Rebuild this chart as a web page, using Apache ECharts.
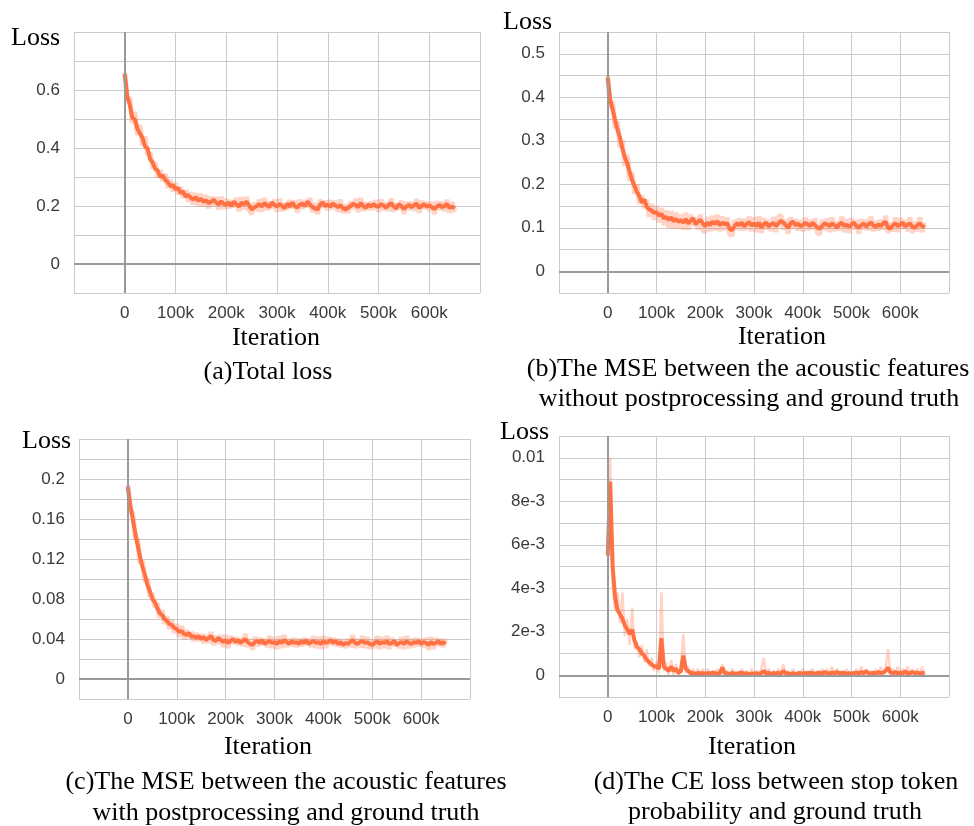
<!DOCTYPE html>
<html>
<head>
<meta charset="utf-8">
<script src="https://cdn.jsdelivr.net/npm/echarts@6/dist/echarts.min.js"></script>
<style>
html,body{margin:0;padding:0;background:#fff;}
#chart{width:974px;height:826px;}
</style>
</head>
<body>
<div id="chart"></div>
<script>
// Iterations (x values shared by all panels), rows of 50k
const iters = [
  0, 5000, 10000, 15000, 20000, 25000, 30000, 35000, 40000, 45000,
  50000, 55000, 60000, 65000, 70000, 75000, 80000, 85000, 90000, 95000,
  100000, 105000, 110000, 115000, 120000, 125000, 130000, 135000, 140000, 145000,
  150000, 155000, 160000, 165000, 170000, 175000, 180000, 185000, 190000, 195000,
  200000, 205000, 210000, 215000, 220000, 225000, 230000, 235000, 240000, 245000,
  250000, 255000, 260000, 265000, 270000, 275000, 280000, 285000, 290000, 295000,
  300000, 305000, 310000, 315000, 320000, 325000, 330000, 335000, 340000, 345000,
  350000, 355000, 360000, 365000, 370000, 375000, 380000, 385000, 390000, 395000,
  400000, 405000, 410000, 415000, 420000, 425000, 430000, 435000, 440000, 445000,
  450000, 455000, 460000, 465000, 470000, 475000, 480000, 485000, 490000, 495000,
  500000, 505000, 510000, 515000, 520000, 525000, 530000, 535000, 540000, 545000,
  550000, 555000, 560000, 565000, 570000, 575000, 580000, 585000, 590000, 595000,
  600000, 605000, 610000, 615000, 620000, 625000, 630000, 635000, 640000, 645000,
  650000];

// (a) Total loss
const aSmooth = [
  0.655, 0.578, 0.548, 0.505, 0.498, 0.466, 0.450, 0.435, 0.405, 0.398,
  0.362, 0.350, 0.328, 0.322, 0.300, 0.305, 0.290, 0.282, 0.268, 0.272,
  0.258, 0.262, 0.245, 0.250, 0.232, 0.238, 0.228, 0.222, 0.230, 0.218,
  0.225, 0.215, 0.220, 0.210, 0.214, 0.222, 0.212, 0.205, 0.216, 0.208,
  0.204, 0.212, 0.200, 0.215, 0.206, 0.198, 0.212, 0.205, 0.215, 0.202,
  0.188, 0.195, 0.200, 0.206, 0.198, 0.210, 0.203, 0.196, 0.212, 0.204,
  0.198, 0.207, 0.200, 0.192, 0.208, 0.198, 0.212, 0.200, 0.195, 0.205,
  0.208, 0.200, 0.215, 0.205, 0.196, 0.192, 0.188, 0.205, 0.212, 0.200,
  0.205, 0.198, 0.208, 0.202, 0.196, 0.203, 0.192, 0.188, 0.194, 0.200,
  0.208, 0.203, 0.196, 0.210, 0.200, 0.194, 0.205, 0.198, 0.206, 0.200,
  0.197, 0.206, 0.202, 0.194, 0.204, 0.210, 0.198, 0.192, 0.206, 0.200,
  0.190, 0.198, 0.204, 0.196, 0.202, 0.208, 0.194, 0.200, 0.206, 0.198,
  0.202, 0.196, 0.190, 0.198, 0.204, 0.196, 0.200, 0.206, 0.194, 0.198,
  0.192];
const aRaw = [
  0.660, 0.560, 0.575, 0.485, 0.525, 0.445, 0.480, 0.410, 0.440, 0.375,
  0.385, 0.330, 0.350, 0.300, 0.325, 0.285, 0.310, 0.262, 0.290, 0.250,
  0.280, 0.240, 0.265, 0.228, 0.255, 0.215, 0.248, 0.205, 0.245, 0.200,
  0.242, 0.198, 0.238, 0.192, 0.232, 0.200, 0.230, 0.188, 0.232, 0.190,
  0.225, 0.192, 0.220, 0.195, 0.228, 0.182, 0.230, 0.188, 0.232, 0.185,
  0.172, 0.212, 0.182, 0.222, 0.180, 0.228, 0.186, 0.215, 0.192, 0.222,
  0.180, 0.225, 0.182, 0.210, 0.188, 0.220, 0.192, 0.218, 0.178, 0.222,
  0.190, 0.220, 0.195, 0.228, 0.178, 0.210, 0.172, 0.222, 0.194, 0.218,
  0.186, 0.220, 0.190, 0.218, 0.180, 0.222, 0.176, 0.205, 0.176, 0.215,
  0.190, 0.225, 0.178, 0.228, 0.184, 0.212, 0.186, 0.215, 0.188, 0.220,
  0.180, 0.222, 0.186, 0.212, 0.184, 0.226, 0.180, 0.210, 0.188, 0.218,
  0.172, 0.215, 0.186, 0.214, 0.184, 0.224, 0.176, 0.218, 0.190, 0.214,
  0.184, 0.214, 0.172, 0.216, 0.186, 0.215, 0.182, 0.222, 0.176, 0.214,
  0.178];

// (b) MSE without postprocessing
const bSmooth = [
  0.445, 0.395, 0.372, 0.348, 0.325, 0.308, 0.282, 0.262, 0.248, 0.228,
  0.210, 0.196, 0.182, 0.172, 0.158, 0.165, 0.148, 0.142, 0.140, 0.134,
  0.136, 0.128, 0.132, 0.122, 0.125, 0.118, 0.124, 0.115, 0.120, 0.114,
  0.117, 0.112, 0.120, 0.110, 0.116, 0.122, 0.108, 0.114, 0.118, 0.110,
  0.104, 0.112, 0.106, 0.114, 0.109, 0.115, 0.106, 0.112, 0.108, 0.111,
  0.097, 0.094, 0.104, 0.110, 0.106, 0.112, 0.103, 0.109, 0.113, 0.105,
  0.110, 0.104, 0.112, 0.100, 0.108, 0.112, 0.103, 0.108, 0.111, 0.104,
  0.110, 0.116, 0.112, 0.106, 0.100, 0.110, 0.114, 0.106, 0.109, 0.104,
  0.106, 0.111, 0.108, 0.104, 0.112, 0.106, 0.100, 0.098, 0.104, 0.110,
  0.108, 0.104, 0.110, 0.106, 0.100, 0.108, 0.112, 0.104, 0.107, 0.102,
  0.108, 0.112, 0.104, 0.100, 0.106, 0.110, 0.103, 0.108, 0.112, 0.105,
  0.102, 0.108, 0.104, 0.110, 0.114, 0.100, 0.098, 0.106, 0.110, 0.104,
  0.108, 0.112, 0.103, 0.107, 0.110, 0.102, 0.100, 0.106, 0.110, 0.104,
  0.101];
const bRaw = [
  0.450, 0.375, 0.390, 0.328, 0.345, 0.285, 0.300, 0.242, 0.268, 0.208,
  0.228, 0.178, 0.200, 0.155, 0.175, 0.145, 0.165, 0.125, 0.155, 0.118,
  0.150, 0.112, 0.145, 0.106, 0.140, 0.100, 0.138, 0.098, 0.135, 0.098,
  0.130, 0.096, 0.135, 0.095, 0.130, 0.105, 0.124, 0.096, 0.130, 0.094,
  0.090, 0.125, 0.092, 0.128, 0.094, 0.130, 0.092, 0.126, 0.094, 0.124,
  0.085, 0.082, 0.118, 0.095, 0.122, 0.094, 0.120, 0.095, 0.126, 0.092,
  0.124, 0.090, 0.126, 0.088, 0.122, 0.096, 0.118, 0.092, 0.125, 0.090,
  0.124, 0.130, 0.096, 0.120, 0.086, 0.124, 0.098, 0.120, 0.094, 0.118,
  0.092, 0.124, 0.094, 0.118, 0.096, 0.122, 0.088, 0.085, 0.118, 0.094,
  0.122, 0.090, 0.124, 0.092, 0.115, 0.094, 0.126, 0.090, 0.120, 0.088,
  0.122, 0.096, 0.118, 0.086, 0.120, 0.096, 0.118, 0.094, 0.126, 0.092,
  0.116, 0.094, 0.118, 0.096, 0.128, 0.088, 0.112, 0.092, 0.124, 0.090,
  0.122, 0.098, 0.118, 0.092, 0.124, 0.088, 0.114, 0.092, 0.124, 0.090,
  0.112];

// (c) MSE with postprocessing
const cSmooth = [
  0.192, 0.174, 0.160, 0.146, 0.134, 0.122, 0.112, 0.104, 0.094, 0.088,
  0.080, 0.077, 0.071, 0.066, 0.064, 0.060, 0.058, 0.055, 0.054, 0.051,
  0.050, 0.047, 0.048, 0.045, 0.044, 0.046, 0.042, 0.043, 0.041, 0.043,
  0.040, 0.042, 0.039, 0.041, 0.043, 0.039, 0.038, 0.041, 0.039, 0.037,
  0.039, 0.036, 0.038, 0.040, 0.037, 0.039, 0.036, 0.038, 0.040, 0.037,
  0.035, 0.034, 0.037, 0.038, 0.036, 0.039, 0.035, 0.037, 0.038, 0.036,
  0.037, 0.035, 0.038, 0.036, 0.039, 0.037, 0.035, 0.038, 0.036, 0.037,
  0.035, 0.038, 0.036, 0.039, 0.035, 0.037, 0.038, 0.036, 0.037, 0.035,
  0.038, 0.036, 0.037, 0.039, 0.036, 0.038, 0.035, 0.037, 0.034, 0.036,
  0.035, 0.037, 0.039, 0.036, 0.035, 0.037, 0.038, 0.036, 0.037, 0.035,
  0.034, 0.036, 0.038, 0.035, 0.037, 0.036, 0.038, 0.035, 0.036, 0.038,
  0.034, 0.036, 0.037, 0.035, 0.038, 0.036, 0.035, 0.037, 0.036, 0.038,
  0.035, 0.037, 0.036, 0.034, 0.037, 0.035, 0.036, 0.038, 0.035, 0.037,
  0.035];
const cRaw = [
  0.194, 0.168, 0.166, 0.140, 0.140, 0.115, 0.118, 0.097, 0.100, 0.082,
  0.086, 0.072, 0.076, 0.061, 0.069, 0.055, 0.063, 0.050, 0.059, 0.046,
  0.055, 0.042, 0.053, 0.040, 0.049, 0.041, 0.047, 0.038, 0.046, 0.038,
  0.045, 0.036, 0.044, 0.036, 0.047, 0.034, 0.043, 0.035, 0.044, 0.032,
  0.044, 0.031, 0.043, 0.035, 0.042, 0.034, 0.041, 0.033, 0.045, 0.032,
  0.040, 0.029, 0.042, 0.033, 0.041, 0.034, 0.040, 0.032, 0.043, 0.031,
  0.042, 0.030, 0.043, 0.031, 0.044, 0.032, 0.040, 0.033, 0.041, 0.032,
  0.040, 0.033, 0.041, 0.034, 0.040, 0.032, 0.043, 0.031, 0.042, 0.030,
  0.043, 0.031, 0.042, 0.034, 0.041, 0.033, 0.040, 0.032, 0.039, 0.031,
  0.040, 0.032, 0.044, 0.031, 0.040, 0.032, 0.043, 0.031, 0.042, 0.030,
  0.039, 0.031, 0.043, 0.030, 0.042, 0.031, 0.043, 0.030, 0.041, 0.033,
  0.039, 0.031, 0.042, 0.030, 0.043, 0.031, 0.040, 0.032, 0.041, 0.033,
  0.040, 0.032, 0.041, 0.029, 0.042, 0.030, 0.041, 0.033, 0.040, 0.032,
  0.040];

// (d) CE loss of stop token
const dSmooth = [
  0.0055, 0.0089, 0.0050, 0.0036, 0.0030, 0.0028, 0.0026, 0.0023, 0.0021, 0.0019,
  0.0021, 0.0016, 0.0013, 0.0012, 0.0010, 0.0009, 0.0007, 0.0006, 0.0005, 0.0004,
  0.0004, 0.0003, 0.0017, 0.0004, 0.0003, 0.0002, 0.0004, 0.0002, 0.0003, 0.0001,
  0.0002, 0.0009, 0.0003, 0.0002, 0.0001, 0.0001, 0.00005, 0.0001, 0.00008, 0.0001,
  0.00005, 0.0001, 0.00008, 0.00012, 0.0001, 0.00006, 0.0001, 0.00035, 0.0001, 0.00008,
  0.00005, 0.0001, 0.00008, 0.00004, 0.0001, 0.00012, 0.00006, 0.0001, 0.00003, 0.00008,
  0.00006, 0.0001, 0.00005, 0.0001, 0.0002, 0.00008, 0.00012, 0.00005, 0.0001, 0.00008,
  0.00012, 0.00006, 0.0002, 0.0001, 0.00008, 0.00005, 0.0001, 0.00004, 0.00008, 0.0001,
  0.00005, 0.0001, 0.00008, 0.00012, 0.0001, 0.00006, 0.0001, 0.00012, 0.00008, 0.00015,
  0.0001, 0.00008, 0.00012, 0.0001, 0.00015, 0.00008, 0.0001, 0.00012, 0.00006, 0.0001,
  0.00004, 0.0001, 0.00012, 0.00008, 0.00015, 0.0001, 0.00018, 0.0001, 0.00008, 0.00012,
  0.00008, 0.00015, 0.0001, 0.00012, 0.0002, 0.00035, 0.00012, 0.0001, 0.00015, 0.00008,
  0.00012, 0.0001, 0.00018, 0.00008, 0.0001, 0.00015, 0.0001, 0.00012, 0.00008, 0.0001,
  0.00008];
const dRaw = [
  0.0058, 0.0100, 0.0042, 0.0030, 0.0038, 0.0024, 0.0038, 0.0018, 0.0026, 0.0014,
  0.0031, 0.0012, 0.0015, 0.0008, 0.0014, 0.0006, 0.0012, 0.0004, 0.0008, 0.0002,
  0.0006, 0.0001, 0.0038, 0.0002, 0.0006, 0.0000, 0.0007, 0.0000, 0.0005, 0.0000,
  0.0004, 0.0019, 0.0001, 0.0004, 0.0000, 0.0003, 0.0000, 0.0003, 0.0000, 0.0003,
  0.0000, 0.0003, 0.0000, 0.0002, 0.0000, 0.0003, 0.0000, 0.0005, 0.0000, 0.0002,
  0.0000, 0.0003, 0.0000, 0.0002, 0.0000, 0.0003, 0.0000, 0.0002, 0.0000, 0.0003,
  0.0000, 0.0002, 0.0000, 0.0003, 0.0008, 0.0000, 0.0003, 0.0000, 0.0002, 0.0000,
  0.0003, 0.0000, 0.0005, 0.0000, 0.0002, 0.0000, 0.0003, 0.0000, 0.0002, 0.0000,
  0.0003, 0.0000, 0.0002, 0.0000, 0.0003, 0.0000, 0.0002, 0.0000, 0.0003, 0.0000,
  0.0003, 0.0000, 0.0004, 0.0000, 0.0003, 0.0000, 0.0002, 0.0000, 0.0003, 0.0000,
  0.0002, 0.0000, 0.0003, 0.0000, 0.0004, 0.0000, 0.0003, 0.0000, 0.0002, 0.0000,
  0.0003, 0.0000, 0.0004, 0.0000, 0.0003, 0.0012, 0.0000, 0.0003, 0.0000, 0.0004,
  0.0000, 0.0003, 0.0000, 0.0004, 0.0000, 0.0003, 0.0000, 0.0003, 0.0000, 0.0004,
  0.0000];

// Tick labels
const xTickValues = [0, 100000, 200000, 300000, 400000, 500000, 600000];
const xTickLabels = ['0', '100k', '200k', '300k', '400k', '500k', '600k'];
const aTickValues = [0, 0.2, 0.4, 0.6];
const aTickLabels = ['0', '0.2', '0.4', '0.6'];
const bTickValues = [0, 0.1, 0.2, 0.3, 0.4, 0.5];
const bTickLabels = ['0', '0.1', '0.2', '0.3', '0.4', '0.5'];
const cTickValues = [0, 0.04, 0.08, 0.12, 0.16, 0.2];
const cTickLabels = ['0', '0.04', '0.08', '0.12', '0.16', '0.2'];
const dTickValues = [0, 0.002, 0.004, 0.006, 0.008, 0.01];
const dTickLabels = ['0', '2e-3', '4e-3', '6e-3', '8e-3', '0.01'];

const chart = echarts.init(document.getElementById('chart'), null, {renderer: 'canvas'});

const GRID_COLOR = '#cbcbcb';
const ZERO_COLOR = '#9a9a9a';
const LINE_COLOR = '#ff7043';
const RAW_COLOR = 'rgba(255,112,67,0.3)';
const TICK_FONT = 'Liberation Sans';
const SERIF = 'Liberation Serif';

function labelFn(values, labels, tol) {
  return function (v) {
    for (let i = 0; i < values.length; i++) {
      if (Math.abs(values[i] - v) < tol) return labels[i];
    }
    return '';
  };
}

const panels = [
  {grid: {left: 74, top: 32, width: 406, height: 261}, min: -0.1, max: 0.8, interval: 0.1,
   tv: aTickValues, tl: aTickLabels, smooth: aSmooth, raw: aRaw, rawWidth: 5},
  {grid: {left: 559, top: 32, width: 390, height: 261}, min: -0.05, max: 0.55, interval: 0.05,
   tv: bTickValues, tl: bTickLabels, smooth: bSmooth, raw: bRaw, rawWidth: 5},
  {grid: {left: 79, top: 439, width: 391, height: 260}, min: -0.02, max: 0.24, interval: 0.02,
   tv: cTickValues, tl: cTickLabels, smooth: cSmooth, raw: cRaw, rawWidth: 5},
  {grid: {left: 559, top: 436, width: 390, height: 261}, min: -0.001, max: 0.011, interval: 0.001,
   tv: dTickValues, tl: dTickLabels, smooth: dSmooth, raw: dRaw, rawWidth: 2.5}
];

const grids = [], xAxes = [], yAxes = [], series = [];
panels.forEach((p, i) => {
  grids.push(Object.assign({containLabel: false, outerBoundsMode: 'none', show: false}, p.grid));
  xAxes.push({
    type: 'value', gridIndex: i, min: -100000, max: 700000, interval: 100000,
    axisLine: {show: false},
    axisTick: {show: true, length: 6, lineStyle: {color: GRID_COLOR, width: 1}},
    splitLine: {show: true, showMinLine: true, showMaxLine: true, lineStyle: {color: GRID_COLOR, width: 1}},
    axisLabel: {show: true, margin: 12, color: '#3a3a3a', fontSize: 17, fontFamily: TICK_FONT,
      showMinLabel: true, showMaxLabel: true,
      formatter: labelFn(xTickValues, xTickLabels, 1)}
  });
  yAxes.push({
    type: 'value', gridIndex: i, min: p.min, max: p.max, interval: p.interval,
    axisLine: {show: false},
    axisTick: {show: true, length: 6, lineStyle: {color: GRID_COLOR, width: 1}},
    splitLine: {show: true, showMinLine: true, showMaxLine: true, lineStyle: {color: GRID_COLOR, width: 1}},
    axisLabel: {show: true, margin: 14, color: '#3a3a3a', fontSize: 17, fontFamily: TICK_FONT,
      showMinLabel: true, showMaxLabel: true,
      formatter: labelFn(p.tv, p.tl, p.interval / 1000)}
  });
  series.push({
    type: 'line', xAxisIndex: i, yAxisIndex: i, z: 1, silent: true,
    data: [], symbol: 'none',
    markLine: {
      silent: true, symbol: 'none', animation: false,
      label: {show: false},
      lineStyle: {color: ZERO_COLOR, width: 2, type: 'solid'},
      data: [{xAxis: 0}, {yAxis: 0}]
    }
  });
  series.push({
    type: 'line', xAxisIndex: i, yAxisIndex: i, z: 2, silent: true,
    showSymbol: false, symbol: 'none', clip: true,
    lineStyle: {color: RAW_COLOR, width: p.rawWidth},
    data: iters.map((x, k) => [x, p.raw[k]])
  });
  series.push({
    type: 'line', xAxisIndex: i, yAxisIndex: i, z: 3, silent: true,
    showSymbol: false, symbol: 'none', clip: true,
    lineStyle: {color: LINE_COLOR, width: 4},
    data: iters.map((x, k) => [x, p.smooth[k]])
  });
});

function txt(text, x, y, align) {
  return {
    type: 'text', silent: true, z: 10,
    style: {
      text: text, x: x, y: y,
      font: '26px "' + SERIF + '"', fontSize: 26, fontFamily: SERIF,
      fill: '#000',
      textAlign: align || 'center', align: align || 'center',
      textVerticalAlign: 'middle', verticalAlign: 'middle'
    }
  };
}

const graphics = [
  txt('Loss', 11, 38, 'left'),
  txt('Iteration', 276, 338),
  txt('(a)Total loss', 268, 372),
  txt('Loss', 503, 22, 'left'),
  txt('Iteration', 782, 337),
  txt('(b)The MSE between the acoustic features', 748, 369),
  txt('without postprocessing and ground truth', 749, 399),
  txt('Loss', 22, 441, 'left'),
  txt('Iteration', 268, 747),
  txt('(c)The MSE between the acoustic features', 286, 782),
  txt('with postprocessing and ground truth', 286, 813),
  txt('Loss', 500, 432, 'left'),
  txt('Iteration', 752, 747),
  txt('(d)The CE loss between stop token', 776, 782),
  txt('probability and ground truth', 775, 812)
];

chart.setOption({
  animation: false,
  backgroundColor: '#fff',
  grid: grids,
  xAxis: xAxes,
  yAxis: yAxes,
  series: series,
  graphic: {elements: graphics}
});
</script>
</body>
</html>
